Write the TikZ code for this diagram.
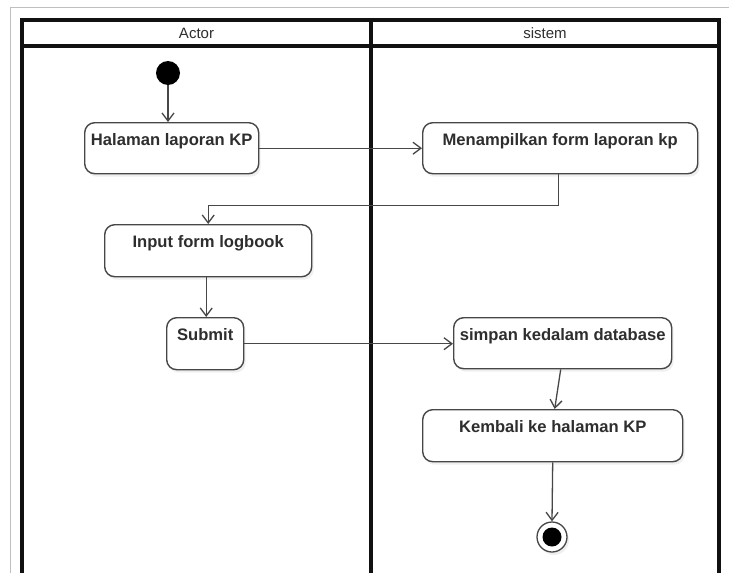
\documentclass[tikz,border=0pt]{standalone}
\usepackage{fontspec}
\setmainfont{Liberation Sans}
\usetikzlibrary{arrows.meta,shadows}
\definecolor{ink}{HTML}{2E2E2E}
\definecolor{edge}{HTML}{474747}
\definecolor{lane}{HTML}{111111}
\begin{document}
\begin{tikzpicture}[x=1pt,y=-1pt,
  act/.style={draw=edge, line width=1.4pt, rounded corners=10pt, fill=white,
    drop shadow={opacity=0.12, shadow xshift=2pt, shadow yshift=-3pt},
    inner sep=0pt, anchor=north west},
  acttext/.style={anchor=north, inner sep=0pt, yshift=-11pt, text=ink,
    font=\fontsize{16.6}{18}\selectfont\bfseries},
  flow/.style={draw=edge, line width=1.3pt, -{Straight Barb[length=8pt,width=12pt]}},
  hdr/.style={text=ink, font=\fontsize{15}{17}\selectfont, inner sep=0pt},
  lanes/.style={draw=lane, line width=3.2pt}
]
\useasboundingbox (0,0) rectangle (729,573);
\fill[white] (0,0) rectangle (729,573);

% page edge
\draw[black!25, line width=0.8pt] (10.5,573) -- (10.5,7.5) -- (729,7.5);

% swimlanes
\draw[lanes] (22,580) -- (22,20) -- (719,20) -- (719,580);
\draw[lanes] (22,46) -- (719,46);
\draw[lanes] (371,20) -- (371,580);
\node[hdr] (actorlbl) at (196.5,33) {Actor};
\node[hdr] (sistemlbl) at (545,33) {sistem};

% start and end
\node[circle, fill=black, minimum size=24pt, inner sep=0pt] (start) at (168,73) {};
\node[circle, draw=edge, line width=1.3pt, fill=white, minimum size=30pt, inner sep=0pt,
  drop shadow={opacity=0.12, shadow xshift=2pt, shadow yshift=-3pt}] (end) at (552,537) {};
\node[circle, fill=black, minimum size=19pt, inner sep=0pt] (endcore) at (end) {};

% actions
\node[act, minimum width=174pt, minimum height=51pt,
  label={[acttext]north:Halaman laporan KP}] (halaman) at (84,122) {};
\node[act, minimum width=275pt, minimum height=51pt,
  label={[acttext]north:Menampilkan form laporan kp}] (tampil) at (422,122) {};
\node[act, minimum width=207pt, minimum height=52pt,
  label={[acttext]north:Input form logbook}] (input) at (104,224) {};
\node[act, minimum width=77pt, minimum height=52pt,
  label={[acttext]north:Submit}] (submit) at (166,317) {};
\node[act, minimum width=218pt, minimum height=51pt,
  label={[acttext]north:simpan kedalam database}] (simpan) at (453,317) {};
\node[act, minimum width=260pt, minimum height=52pt,
  label={[acttext]north:Kembali ke halaman KP}] (kembali) at (422,409) {};

% control flow
\draw[flow] (start.south) -- (start.south |- halaman.north);
\draw[flow] (halaman.east) -- (halaman.east -| tampil.west);
\draw[flow] ([xshift=-1.5pt]tampil.south) -- ++(0,31) -| (input.north);
\draw[flow] ([xshift=-2pt]input.south) -- ([xshift=-2pt]input.south |- submit.north);
\draw[flow] (submit.east) -- (submit.east -| simpan.west);
\draw[flow] ([xshift=-2pt]simpan.south) -- ([xshift=2pt]kembali.north);
\draw[flow] (kembali.south) -- (end.north);
\end{tikzpicture}
\end{document}
